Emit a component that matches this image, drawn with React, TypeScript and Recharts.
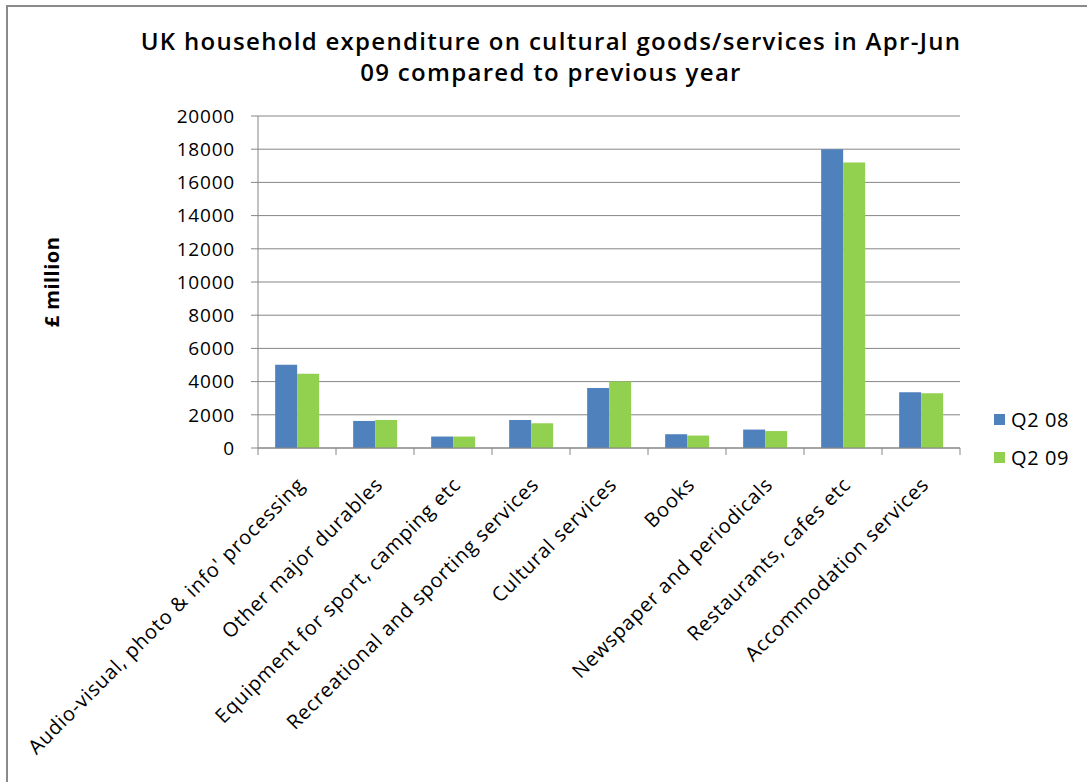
import React from 'react';
import { BarChart, Bar, XAxis, YAxis, CartesianGrid, Legend } from 'recharts';

const categories = [
  'Audio-visual, photo & info\' processing',
  'Other major durables',
  'Equipment for sport, camping etc',
  'Recreational and sporting services',
  'Cultural services',
  'Books',
  'Newspaper and periodicals',
  'Restaurants, cafes etc',
  'Accommodation services',
];
const q208 = [5020, 1630, 690, 1690, 3620, 830, 1110, 18000, 3360];
const q209 = [4480, 1690, 690, 1490, 4000, 750, 1020, 17200, 3300];
const yTicks = [0, 2000, 4000, 6000, 8000, 10000, 12000, 14000, 16000, 18000, 20000];
const seriesNames = ['Q2 08', 'Q2 09'];
const colors = ['#4F81BD', '#92D050'];

const data = categories.map((name, i) => ({ name, q208: q208[i], q209: q209[i] }));

const W = 1087;
const H = 782;
const MARGIN = { top: 116, right: 37, bottom: 34, left: 178 };
const YAXIS_W = 80;
const XAXIS_H = 300;
const LEGEND_W = 90;
const PLOT_W = W - MARGIN.left - YAXIS_W - MARGIN.right - LEGEND_W;
const HALF_BAND = PLOT_W / categories.length / 2;
const FONT = '"Open Sans", sans-serif';
const GRID = '#868686';

const CategoryTick = (props: any) => {
  const { x, y, payload, index } = props;
  const axisY = y - 8;
  return (
    <g>
      <line x1={x - HALF_BAND} y1={axisY} x2={x - HALF_BAND} y2={axisY + 7} stroke={GRID} strokeWidth={1} />
      {index === categories.length - 1 && (
        <line x1={x + HALF_BAND} y1={axisY} x2={x + HALF_BAND} y2={axisY + 7} stroke={GRID} strokeWidth={1} />
      )}
      <g transform={`translate(${x + 4},${axisY + 33}) rotate(-45)`}>
        <text x={0} y={0} dy="0.35em" textAnchor="end" fontSize={20} letterSpacing={0.8} fontFamily={FONT} fill="#000">
          {payload.value}
        </text>
      </g>
    </g>
  );
};

const LegendContent = () => (
  <div style={{ fontFamily: FONT, fontSize: 20, letterSpacing: 0.6, color: '#000' }}>
    {seriesNames.map((n, i) => (
      <div key={n} style={{ display: 'flex', alignItems: 'center', height: 38 }}>
        <span style={{ display: 'inline-block', width: 11, height: 11, background: colors[i], marginRight: 6 }} />
        <span>{n}</span>
      </div>
    ))}
  </div>
);

export default function App() {
  return (
    <div style={{ position: 'absolute', left: 0, top: 0, width: W, height: H, background: '#fff', overflow: 'hidden' }}>
      <div style={{ position: 'absolute', left: 6, top: 5, width: W, height: H, borderLeft: '2px solid #8a8a8a', borderTop: '2px solid #8a8a8a' }} />
      <div style={{ position: 'absolute', left: 0, top: 25, width: 1102, textAlign: 'center', fontFamily: FONT, fontWeight: 600, fontSize: 24, letterSpacing: 1.3, lineHeight: '31px', color: '#000' }}>
        UK household expenditure on cultural goods/services in Apr-Jun<br />09 compared to previous year
      </div>
      <div style={{ position: 'absolute', left: 51, top: 282, transform: 'translate(-50%, -50%) rotate(-90deg)', fontFamily: FONT, fontWeight: 700, fontSize: 20, letterSpacing: 0.5, whiteSpace: 'nowrap', color: '#000' }}>
        £ million
      </div>
      <div style={{ position: 'absolute', left: 0, top: 0 }}>
        <BarChart width={W} height={H} data={data} margin={MARGIN} barCategoryGap="22%" barGap={0}>
          <CartesianGrid vertical={false} stroke={GRID} strokeWidth={1} />
          <XAxis
            dataKey="name"
            interval={0}
            height={XAXIS_H}
            tickLine={false}
            axisLine={{ stroke: GRID }}
            tick={<CategoryTick />}
          />
          <YAxis
            width={YAXIS_W}
            domain={[0, 20000]}
            ticks={yTicks}
            interval={0}
            tickSize={7}
            tickMargin={16}
            tickLine={{ stroke: GRID }}
            axisLine={{ stroke: GRID }}
            tick={{ fontSize: 19, fontFamily: FONT, fill: '#000', letterSpacing: 0.8 }}
          />
          <Legend
            layout="vertical"
            align="right"
            verticalAlign="middle"
            content={<LegendContent />}
            wrapperStyle={{ left: 994, top: 400, width: LEGEND_W }}
          />
          <Bar dataKey="q208" name={seriesNames[0]} fill={colors[0]} isAnimationActive={false} />
          <Bar dataKey="q209" name={seriesNames[1]} fill={colors[1]} isAnimationActive={false} />
        </BarChart>
      </div>
    </div>
  );
}
